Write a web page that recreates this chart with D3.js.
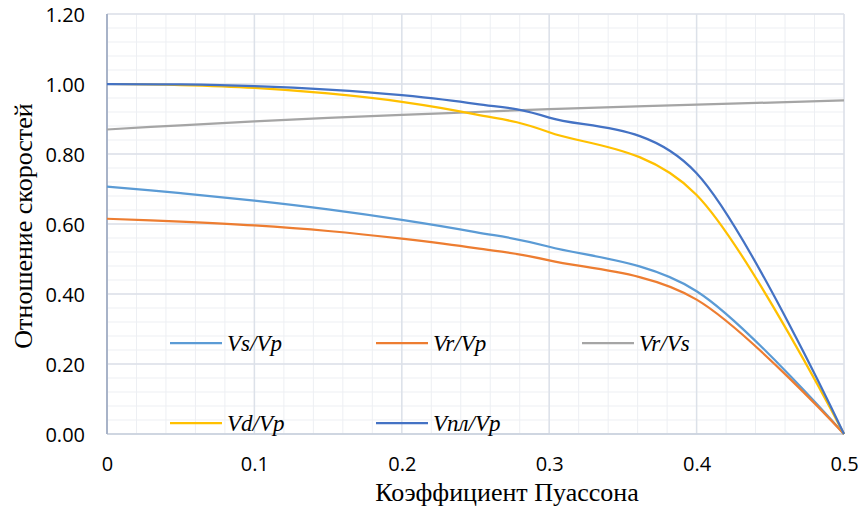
<!DOCTYPE html>
<html>
<head>
<meta charset="utf-8">
<script src="https://cdn.jsdelivr.net/npm/d3@7"></script>
<style>
  html, body { margin: 0; padding: 0; background: #fff; }
  svg { display: block; }
</style>
</head>
<body>
<svg id="chart" width="859" height="508"></svg>
<script>
// Poisson's ratio sample points
const poisson = [0, 0.05, 0.1, 0.15, 0.2, 0.25, 0.3, 0.4, 0.5];

// Velocity ratios for each Poisson's ratio
const vsVp  = [0.707, 0.688, 0.667, 0.642, 0.612, 0.577, 0.535, 0.408, 0];
const vrVp  = [0.615, 0.607, 0.596, 0.580, 0.558, 0.531, 0.496, 0.384, 0];
const vrVs  = [0.870, 0.882, 0.893, 0.903, 0.912, 0.920, 0.928, 0.941, 0.953];
const vdVp  = [1.000, 0.997, 0.989, 0.973, 0.949, 0.913, 0.862, 0.683, 0];
const vplVp = [1.000, 0.999, 0.994, 0.984, 0.968, 0.943, 0.904, 0.745, 0];

const seriesNames  = ["Vs/Vp", "Vr/Vp", "Vr/Vs", "Vd/Vp", "Vпл/Vp"];
const seriesColors = ["#5B9BD5", "#ED7D31", "#A5A5A5", "#FFC000", "#4472C4"];
const seriesValues = [vsVp, vrVp, vrVs, vdVp, vplVp];

const xTicks = [0, 0.1, 0.2, 0.3, 0.4, 0.5];
const yTicks = [0, 0.2, 0.4, 0.6, 0.8, 1.0, 1.2];

const xTitle = "Коэффициент Пуассона";
const yTitle = "Отношение скоростей";

const serifFont = '"Liberation Serif", serif';
const tickFont = '"Open Sans", sans-serif';

const svg = d3.select("#chart");
const plot = { left: 107, right: 844, top: 14, bottom: 434 };

const x = d3.scaleLinear().domain([0, 0.5]).range([plot.left, plot.right]);
const y = d3.scaleLinear().domain([0, 1.2]).range([plot.bottom, plot.top]);

// Minor grid
const minorX = d3.range(0, 0.5001, 0.02);
const minorY = d3.range(0, 1.2001, 0.04);
const grid = svg.append("g");
grid.selectAll(".mx").data(minorX).join("line")
  .attr("x1", d => x(d)).attr("x2", d => x(d))
  .attr("y1", plot.top).attr("y2", plot.bottom)
  .attr("stroke", "#EDEFF3").attr("stroke-width", 1);
grid.selectAll(".my").data(minorY).join("line")
  .attr("x1", plot.left).attr("x2", plot.right)
  .attr("y1", d => y(d)).attr("y2", d => y(d))
  .attr("stroke", "#EDEFF3").attr("stroke-width", 1);

// Major grid
grid.selectAll(".gx").data(xTicks).join("line")
  .attr("x1", d => x(d)).attr("x2", d => x(d))
  .attr("y1", plot.top).attr("y2", plot.bottom)
  .attr("stroke", "#DCE1E9").attr("stroke-width", 1.5);
grid.selectAll(".gy").data(yTicks).join("line")
  .attr("x1", plot.left).attr("x2", plot.right)
  .attr("y1", d => y(d)).attr("y2", d => y(d))
  .attr("stroke", "#DCE1E9").attr("stroke-width", 1.5);

// Axis lines
svg.append("line")
  .attr("x1", plot.left).attr("x2", plot.right)
  .attr("y1", plot.bottom).attr("y2", plot.bottom)
  .attr("stroke", "#C9D0DD").attr("stroke-width", 1.5);
svg.append("line")
  .attr("x1", plot.left).attr("x2", plot.left)
  .attr("y1", plot.top).attr("y2", plot.bottom)
  .attr("stroke", "#A8B3C8").attr("stroke-width", 2);

// Tick labels via axes
const yAxis = svg.append("g")
  .attr("transform", `translate(${plot.left - 22},0)`)
  .call(d3.axisLeft(y).tickValues(yTicks).tickFormat(d3.format(".2f")).tickSize(0).tickPadding(0));
const xAxis = svg.append("g")
  .attr("transform", `translate(0,${plot.bottom + 22})`)
  .call(d3.axisBottom(x).tickValues(xTicks).tickFormat(d => d === 0 ? "0" : d3.format(".1f")(d)).tickSize(0).tickPadding(0));
[yAxis, xAxis].forEach(a => {
  a.select(".domain").remove();
  a.selectAll("text")
    .style("font-family", tickFont)
    .style("font-size", "20px")
    .attr("fill", "#000");
});
yAxis.selectAll("text").attr("dy", "0.35em");
xAxis.selectAll("text").attr("dy", "0.75em");

// Curves
const line = d3.line()
  .x((d, i) => x(poisson[i]))
  .y(d => y(d))
  .curve(d3.curveCardinal.tension(0));

svg.append("g").selectAll("path")
  .data(seriesValues)
  .join("path")
  .attr("d", d => line(d))
  .attr("fill", "none")
  .attr("stroke", (d, i) => seriesColors[i])
  .attr("stroke-width", 2.25)
  .attr("stroke-linejoin", "round");

// Legend
const legendPos = [
  [170, 343], [376, 343], [582, 343],
  [170, 423], [376, 423]
];
const legend = svg.append("g");
seriesNames.forEach((name, i) => {
  const [lx, ly] = legendPos[i];
  legend.append("line")
    .attr("x1", lx).attr("x2", lx + 52)
    .attr("y1", ly).attr("y2", ly)
    .attr("stroke", seriesColors[i]).attr("stroke-width", 2.25);
  legend.append("text")
    .attr("x", lx + 57).attr("y", ly + 8)
    .style("font-family", serifFont)
    .style("font-style", "italic")
    .style("font-size", "23px")
    .attr("fill", "#000")
    .text(name);
});

// Axis titles
svg.append("text")
  .attr("x", 507).attr("y", 501)
  .attr("text-anchor", "middle")
  .style("font-family", serifFont)
  .style("font-size", "26px")
  .attr("fill", "#000")
  .text(xTitle);
svg.append("text")
  .attr("transform", `translate(32,226) rotate(-90)`)
  .attr("text-anchor", "middle")
  .style("font-family", serifFont)
  .style("font-size", "26px")
  .attr("fill", "#000")
  .text(yTitle);
</script>
</body>
</html>
